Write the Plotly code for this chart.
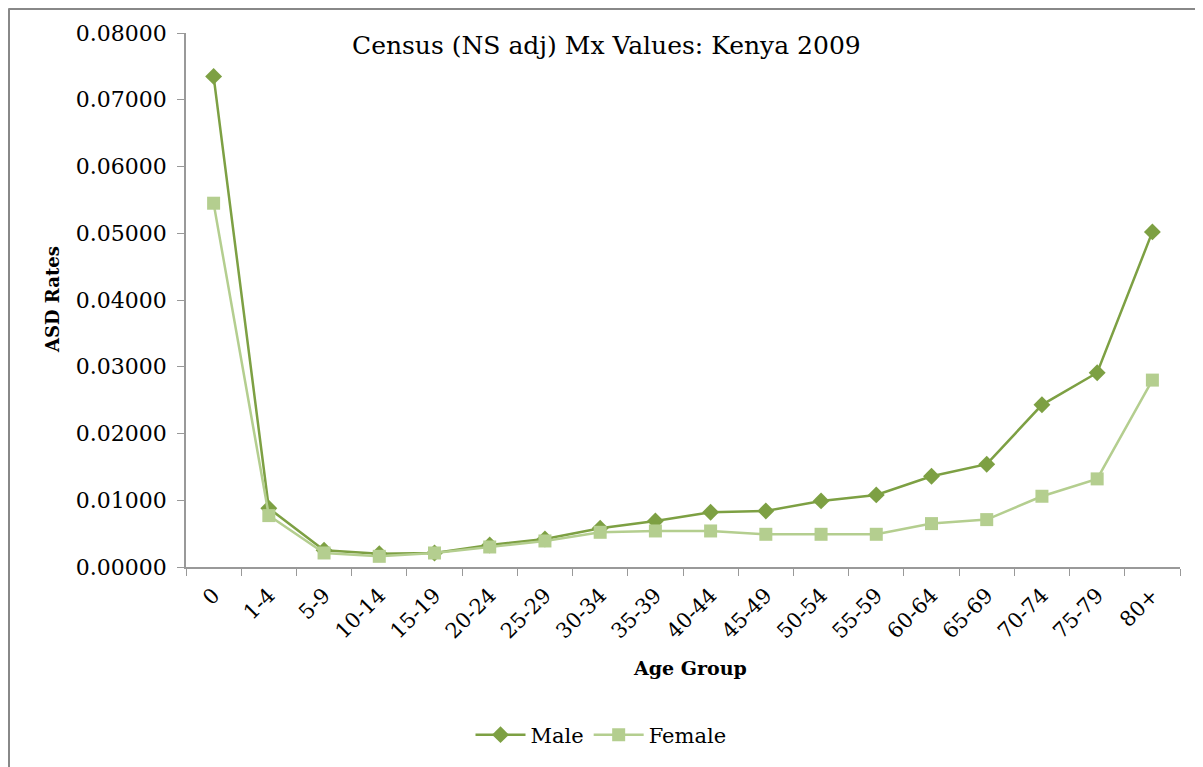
import plotly.graph_objects as go

# Data
age_groups = ["0", "1-4", "5-9", "10-14", "15-19", "20-24", "25-29", "30-34", "35-39",
              "40-44", "45-49", "50-54", "55-59", "60-64", "65-69", "70-74", "75-79", "80+"]

male = [0.0735, 0.0088, 0.0025, 0.0020, 0.0021, 0.0033, 0.0042, 0.0058, 0.0069,
        0.0082, 0.0084, 0.0099, 0.0108, 0.0136, 0.0154, 0.0243, 0.0291, 0.0502]

female = [0.0545, 0.0077, 0.0021, 0.0016, 0.0021, 0.0030, 0.0039, 0.0052, 0.0054,
          0.0054, 0.0049, 0.0049, 0.0049, 0.0065, 0.0071, 0.0106, 0.0132, 0.0280]

male_color = "#7DA043"
female_color = "#B4CE8F"
font_family = "DejaVu Serif"

fig = go.Figure()

fig.add_trace(go.Scatter(
    x=age_groups, y=male, name="Male", mode="lines+markers",
    line=dict(color=male_color, width=2.5),
    marker=dict(symbol="diamond", size=13, color=male_color)
))

fig.add_trace(go.Scatter(
    x=age_groups, y=female, name="Female", mode="lines+markers",
    line=dict(color=female_color, width=2.5),
    marker=dict(symbol="square", size=13, color=female_color)
))

# page has an 8px body margin, so the figure is shifted by 8px
OFF = 8
W, H = 1195, 759
L, T = 186 - OFF, 33 - OFF
R = W - (1180 - OFF)
B = H - (567 - OFF)
pw = W - L - R
ph = H - T - B


def px_x(p):
    # p is a pixel x in the reference picture
    return (p - OFF - L) / pw


def px_y(p):
    return (H - B - (p - OFF)) / ph


fig.update_layout(
    width=W, height=H,
    margin=dict(l=L, r=R, t=T, b=B),
    plot_bgcolor="white",
    paper_bgcolor="white",
    font=dict(family=font_family, size=20, color="black"),
    showlegend=True,
    legend=dict(
        orientation="h",
        x=px_x(601), xanchor="center",
        y=px_y(735), yanchor="middle",
        font=dict(size=21),
        itemwidth=50,
    ),
)

fig.update_xaxes(
    type="category",
    range=[-0.5, len(age_groups) - 0.5],
    tickangle=-45,
    tickson="boundaries",
    ticks="outside", ticklen=7, tickcolor="#999999",
    ticklabelstandoff=6,
    showline=True, linecolor="#999999", linewidth=1.5,
    showgrid=False,
    tickfont=dict(size=21),
)

fig.update_yaxes(
    range=[0, 0.08],
    dtick=0.01,
    tickformat=".5f",
    ticks="outside", ticklen=7, tickcolor="#999999",
    ticklabelstandoff=6,
    showline=True, linecolor="#999999", linewidth=1.5,
    showgrid=False, zeroline=False,
    tickfont=dict(size=22),
)

# titles
fig.add_annotation(
    text="Census (NS adj) Mx Values: Kenya 2009",
    xref="paper", yref="paper", x=px_x(606), y=px_y(45),
    xanchor="center", yanchor="middle", showarrow=False,
    font=dict(size=25),
)
fig.add_annotation(
    text="<b>ASD Rates</b>",
    xref="paper", yref="paper", x=px_x(52), y=px_y(300),
    xanchor="center", yanchor="middle", showarrow=False, textangle=-90,
    font=dict(size=18),
)
fig.add_annotation(
    text="<b>Age Group</b>",
    xref="paper", yref="paper", x=px_x(690), y=px_y(668),
    xanchor="center", yanchor="middle", showarrow=False,
    font=dict(size=19),
)

# outer chart border (top and left visible in the reference)
fig.add_shape(type="line", xref="paper", yref="paper",
              x0=px_x(8.5), x1=px_x(1215), y0=px_y(8.5), y1=px_y(8.5),
              line=dict(color="#888888", width=3))
fig.add_shape(type="line", xref="paper", yref="paper",
              x0=px_x(8.5), x1=px_x(8.5), y0=px_y(8.5), y1=px_y(780),
              line=dict(color="#888888", width=3))

fig.write_html("out.html")
